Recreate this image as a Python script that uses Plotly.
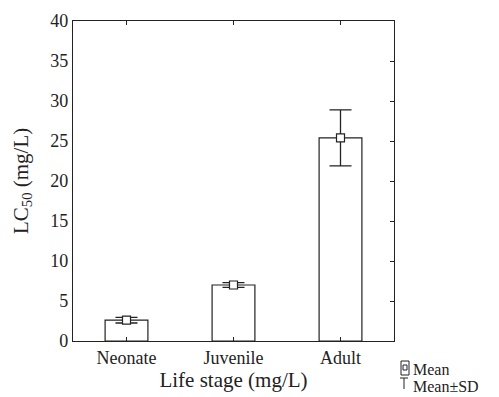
import plotly.graph_objects as go

categories = ["Neonate", "Juvenile", "Adult"]
means = [2.6, 7.0, 25.4]
sds = [0.35, 0.3, 3.5]
y_ticks = [0, 5, 10, 15, 20, 25, 30, 35, 40]

FONT = "Liberation Serif, Times New Roman, serif"
fig = go.Figure()
fig.add_trace(go.Bar(
    x=categories, y=means, width=0.4,
    marker=dict(color="white", line=dict(color="#222", width=1.2)),
    showlegend=False,
))
fig.add_trace(go.Scatter(
    x=categories, y=means, mode="markers",
    marker=dict(symbol="square", size=8, color="white", line=dict(width=1.2, color="#222")),
    error_y=dict(type="data", array=sds, visible=True, color="#222", thickness=1.3, width=11),
    showlegend=False,
))
# invisible trace for right axis
fig.add_trace(go.Scatter(x=categories, y=means, yaxis="y2", mode="markers",
                         marker=dict(opacity=0), showlegend=False, hoverinfo="skip"))

axis_common = dict(showline=True, linecolor="#222", linewidth=1.2, showgrid=False, zeroline=False)
fig.update_layout(
    width=499, height=397,
    margin=dict(l=73, r=105, t=21, b=56),
    paper_bgcolor="white", plot_bgcolor="white",
    font=dict(family=FONT, color="#222", size=18),
    xaxis=dict(**axis_common, range=[-0.5, 2.5], ticks="inside", ticklen=4, tickcolor="#222",
               mirror="ticks", tickfont=dict(size=18, family=FONT),
               title=dict(text="Life stage (mg/L)", font=dict(size=21, family=FONT), standoff=2)),
    yaxis=dict(**axis_common, range=[0, 40], tickvals=y_ticks, ticks="", mirror=True,
               tickfont=dict(size=18, family=FONT)),
    yaxis2=dict(overlaying="y", side="right", range=[0, 40], tickvals=y_ticks, ticks="inside",
                ticklen=4, tickcolor="#222", showticklabels=False, showgrid=False, zeroline=False,
                showline=False),
)

# y-axis title
fig.add_annotation(text="LC<sub>50</sub> (mg/L)", xref="paper", yref="paper",
                   x=(22-73)/321, y=0.5, xanchor="center", yanchor="middle", textangle=-90,
                   showarrow=False, font=dict(size=21, family=FONT))

# legend drawn manually
fig.add_shape(type="rect", xref="paper", yref="paper", x0=(401-73)/321, x1=(409-73)/321,
              y0=(341-375)/320, y1=(341-361)/320, line=dict(color="#222", width=1))
fig.add_shape(type="rect", xref="paper", yref="paper", x0=(403-73)/321, x1=(407-73)/321,
              y0=(341-370)/320, y1=(341-365)/320, line=dict(color="#222", width=1))
fig.add_shape(type="line", xref="paper", yref="paper", x0=(400-73)/321, x1=(408-73)/321,
              y0=(341-378)/320, y1=(341-378)/320, line=dict(color="#222", width=1))
fig.add_shape(type="line", xref="paper", yref="paper", x0=(404-73)/321, x1=(404-73)/321,
              y0=(341-378)/320, y1=(341-389)/320, line=dict(color="#222", width=1))
fig.add_annotation(text="Mean", xref="paper", yref="paper", x=(412-73)/321, y=(341-369)/320,
                   xanchor="left", yanchor="middle", showarrow=False, height=14, borderpad=0,
                   font=dict(size=16, family=FONT))
fig.add_annotation(text="Mean±SD", xref="paper", yref="paper", x=(412-73)/321, y=(341-385.5)/320,
                   xanchor="left", yanchor="middle", showarrow=False, height=14, borderpad=0,
                   font=dict(size=16, family=FONT))

fig.write_html("out.html")
